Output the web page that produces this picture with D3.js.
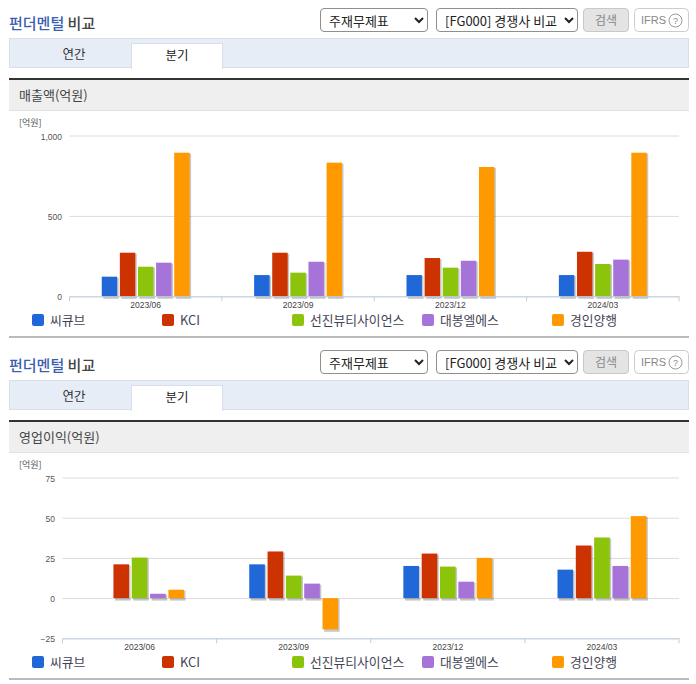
<!DOCTYPE html>
<html>
<head>
<meta charset="utf-8">
<script src="https://cdn.jsdelivr.net/npm/d3@7"></script>
<style>
body { margin: 0; background: #fff; font-family: "Noto Sans CJK KR", sans-serif; overflow: hidden; }
#wrap { position: relative; width: 696px; height: 684px; }
svg { position: absolute; left: 0; top: 0; }
select { position: absolute; height: 24px; box-sizing: border-box; font-family: "Noto Sans CJK KR", sans-serif; font-size: 13px; color: #222; background: #fff; border: 1px solid #8f8f8f; border-radius: 4px; padding: 0 0 0 4px; }
.btn { position: absolute; height: 24px; box-sizing: border-box; border-radius: 4px; font-size: 12px; text-align: center; line-height: 21px; }
</style>
</head>
<body>
<div id="wrap"></div>
<script>
//DATA
const periods = ['2023/06', '2023/09', '2023/12', '2024/03'];
const companies = ['씨큐브', 'KCI', '선진뷰티사이언스', '대봉엘에스', '경인양행'];
const colors = ['#2068d8', '#cc3300', '#8cc40c', '#a673d9', '#ff9900'];

const sales = [
    [122, 132, 132, 132],
    [271, 271, 238, 277],
    [184, 147, 178, 201],
    [209, 215, 221, 228],
    [893, 831, 804, 893]
];
const profit = [
    [null, 21, 20, 17.7],
    [21, 29, 27.7, 32.7],
    [25.2, 14, 19.6, 37.7],
    [2.7, 9, 10.2, 20],
    [5.2, -19.4, 25, 51]
];
const salesTicks = [0, 500, 1000];
const profitTicks = [-25, 0, 25, 50, 75];
const legendX = [32, 162, 292, 422, 552];

const wrap = d3.select('#wrap');
const svg = wrap.append('svg').attr('width', 696).attr('height', 684);

//PANEL FRAME
function drawFrame(offset, title) {
    const g = svg.append('g').attr('transform', `translate(0,${offset})`);
    const head = g.append('text').attr('x', 9).attr('y', 28.5).attr('font-size', 15).attr('font-weight', 500);
    head.append('tspan').attr('fill', '#3a5fae').text('펀더멘털');
    head.append('tspan').attr('fill', '#444').text(' 비교');

    g.append('rect').attr('x', 9.5).attr('y', 38.5).attr('width', 679).attr('height', 29)
        .attr('fill', '#e6edf7').attr('stroke', '#d8dfea');
    g.append('rect').attr('x', 131.5).attr('y', 43.5).attr('width', 91).attr('height', 25)
        .attr('fill', '#fff').attr('stroke', '#d8dfea');
    g.append('rect').attr('x', 132).attr('y', 67).attr('width', 90).attr('height', 2).attr('fill', '#fff');
    g.append('text').attr('x', 74).attr('y', 59).attr('text-anchor', 'middle').attr('font-size', 12.5).attr('fill', '#333').text('연간');
    g.append('text').attr('x', 177).attr('y', 60).attr('text-anchor', 'middle').attr('font-size', 12.5).attr('fill', '#222').text('분기');

    g.append('rect').attr('x', 9).attr('y', 80).attr('width', 680).attr('height', 30).attr('fill', '#efefef');
    g.append('rect').attr('x', 9).attr('y', 110).attr('width', 680).attr('height', 1).attr('fill', '#e2e2e2');
    g.append('rect').attr('x', 9).attr('y', 78).attr('width', 680).attr('height', 2).attr('fill', '#333');
    g.append('text').attr('x', 19).attr('y', 99.5).attr('font-size', 13).attr('fill', '#444').text(title);
    g.append('rect').attr('x', 9).attr('y', 336).attr('width', 680).attr('height', 2).attr('fill', '#bbb');

    wrap.append('select').style('left', '320px').style('top', (8 + offset) + 'px').style('width', '108px')
        .append('option').text('주재무제표');
    wrap.append('select').style('left', '436px').style('top', (8 + offset) + 'px').style('width', '142px')
        .append('option').text('[FG000] 경쟁사 비교');
    wrap.append('div').attr('class', 'btn').style('left', '583px').style('top', (8 + offset) + 'px').style('width', '46px')
        .style('background', '#e4e4e4').style('border', '1px solid #c8c8c8').style('color', '#888').text('검색');
    const ifrs = g.append('g');
    ifrs.append('rect').attr('x', 634.5).attr('y', 8.5).attr('width', 54).attr('height', 23).attr('rx', 4)
        .attr('fill', '#fff').attr('stroke', '#ccc');
    ifrs.append('text').attr('x', 641).attr('y', 24).attr('font-size', 11).attr('fill', '#888')
        .attr('font-family', 'Liberation Sans').text('IFRS');
    ifrs.append('circle').attr('cx', 675.5).attr('cy', 20.5).attr('r', 6.5).attr('fill', 'none').attr('stroke', '#999');
    ifrs.append('text').attr('x', 675.5).attr('y', 24).attr('text-anchor', 'middle').attr('font-size', 9).attr('fill', '#888')
        .attr('font-family', 'Liberation Sans').text('?');
}

//CHART
function drawChart(offset, series, ticks, left, labelX, tickFormat, axisValue) {
    const g = svg.append('g').attr('transform', `translate(0,${offset})`);
    const y = d3.scaleLinear().domain(d3.extent(ticks)).range([296.3, 135.5]);
    const x0 = d3.scaleBand().domain(periods).range([left, 679]);
    const x1 = d3.scaleBand().domain(d3.range(companies.length)).range([0, x0.bandwidth()])
        .paddingInner(0.148).paddingOuter(1.78);

    g.append('text').attr('x', 19).attr('y', 126).attr('font-size', 9).attr('fill', '#555').text('[억원]');

    //grid + y labels
    const yAxis = g.append('g').attr('transform', `translate(${left},0)`)
        .call(d3.axisLeft(y).tickValues(ticks).tickSize(-(679 - left)).tickFormat(tickFormat));
    yAxis.select('.domain').remove();
    yAxis.selectAll('line').attr('stroke', '#dcdcdc');
    yAxis.selectAll('text').attr('x', labelX - left).attr('dy', '0.42em').attr('fill', '#555')
        .attr('font-size', 8.5).attr('font-family', 'Liberation Sans');

    //bars
    const groups = g.selectAll('.company').data(series).enter().append('g').attr('class', 'company');
    groups.each(function (values, s) {
        const valid = periods.map((p, i) => ({ p, v: values[i] })).filter(d => d.v !== null);
        const sel = d3.select(this);
        sel.selectAll('.shadow').data(valid).enter().append('rect').attr('class', 'shadow')
            .attr('x', d => x0(d.p) + x1(s) + 1.5)
            .attr('y', d => Math.min(y(d.v), y(0)) + 1)
            .attr('width', x1.bandwidth())
            .attr('height', d => Math.abs(y(d.v) - y(0)) + 1.5)
            .attr('fill', '#000').attr('opacity', 0.22);
        sel.selectAll('.bar').data(valid).enter().append('rect').attr('class', 'bar')
            .attr('x', d => x0(d.p) + x1(s))
            .attr('y', d => Math.min(y(d.v), y(0)))
            .attr('width', x1.bandwidth())
            .attr('height', d => Math.abs(y(d.v) - y(0)))
            .attr('fill', colors[s]);
    });

    //x axis
    const xAxis = g.append('g').attr('transform', `translate(0,${y(axisValue)})`)
        .call(d3.axisBottom(x0).tickSize(0).tickPadding(6));
    xAxis.select('.domain').attr('stroke', '#c0d0e0');
    xAxis.selectAll('text').attr('fill', '#444').attr('font-size', 8.5).attr('font-family', 'Liberation Sans');
    const edges = periods.map(p => x0(p)).concat([679]);
    xAxis.selectAll('.edge').data(edges).enter().append('line').attr('class', 'edge')
        .attr('x1', d => d).attr('x2', d => d).attr('y1', 0).attr('y2', 5).attr('stroke', '#c0d0e0');

    //legend
    const legend = g.selectAll('.legend').data(companies).enter().append('g').attr('class', 'legend')
        .attr('transform', (d, i) => `translate(${legendX[i]},314)`);
    legend.append('rect').attr('width', 12).attr('height', 12).attr('rx', 2).attr('fill', (d, i) => colors[i]);
    legend.append('text').attr('x', 18).attr('y', 10.5).attr('font-size', 12.8).attr('fill', '#445').text(d => d);
}

drawFrame(0, '매출액(억원)');
drawFrame(342, '영업이익(억원)');
drawChart(0, sales, salesTicks, 69.5, 62, d3.format(','), 0);
drawChart(342, profit, profitTicks, 62.5, 55, d3.format('d'), -25);
</script>
</body>
</html>
